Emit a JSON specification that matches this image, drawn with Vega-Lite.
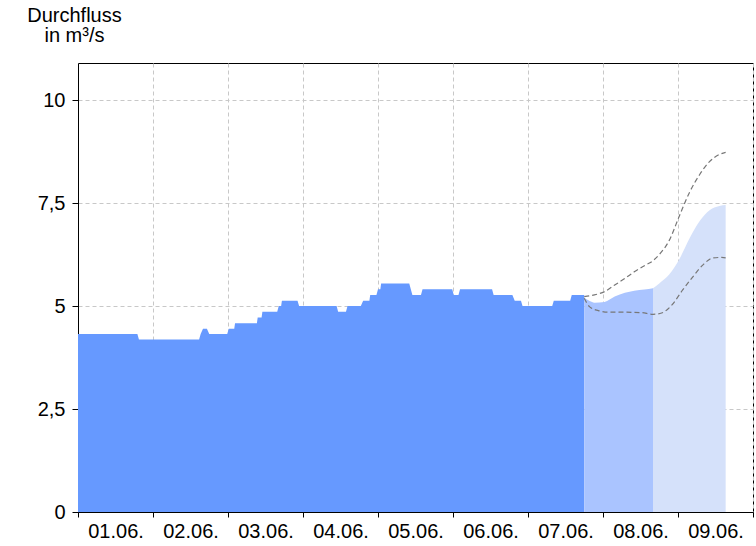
{
  "$schema": "https://vega.github.io/schema/vega-lite/v6.json",
  "autosize": {"type": "none"},
  "padding": {"left": 78, "top": 63, "right": 3, "bottom": 34},
  "width": 675,
  "height": 449,
  "config": {
    "font": "Liberation Sans",
    "view": {"stroke": "#000000", "strokeWidth": 1},
    "axis": {
      "labelFont": "Liberation Sans",
      "labelFontSize": 20,
      "labelColor": "#000000",
      "domainColor": "#000000",
      "tickColor": "#000000",
      "gridColor": "#c8c8c8",
      "gridDash": [4, 3],
      "gridWidth": 1,
      "zindex": 1
    }
  },
  "datasets": {
    "obs": [
      {"t": "2024-06-01T00:00", "q": 4.32},
      {"t": "2024-06-01T19:00", "q": 4.32},
      {"t": "2024-06-01T19:30", "q": 4.19},
      {"t": "2024-06-02T14:45", "q": 4.19},
      {"t": "2024-06-02T15:15", "q": 4.32},
      {"t": "2024-06-02T16:00", "q": 4.45},
      {"t": "2024-06-02T17:15", "q": 4.45},
      {"t": "2024-06-02T18:00", "q": 4.32},
      {"t": "2024-06-02T23:45", "q": 4.32},
      {"t": "2024-06-03T00:15", "q": 4.45},
      {"t": "2024-06-03T02:00", "q": 4.45},
      {"t": "2024-06-03T02:15", "q": 4.58},
      {"t": "2024-06-03T09:15", "q": 4.58},
      {"t": "2024-06-03T09:30", "q": 4.72},
      {"t": "2024-06-03T10:45", "q": 4.72},
      {"t": "2024-06-03T11:00", "q": 4.86},
      {"t": "2024-06-03T15:45", "q": 4.86},
      {"t": "2024-06-03T16:15", "q": 5.0},
      {"t": "2024-06-03T17:00", "q": 5.0},
      {"t": "2024-06-03T17:15", "q": 5.13},
      {"t": "2024-06-03T22:15", "q": 5.13},
      {"t": "2024-06-03T22:45", "q": 5.0},
      {"t": "2024-06-04T10:45", "q": 5.0},
      {"t": "2024-06-04T11:15", "q": 4.86},
      {"t": "2024-06-04T13:45", "q": 4.86},
      {"t": "2024-06-04T14:15", "q": 5.0},
      {"t": "2024-06-04T18:30", "q": 5.0},
      {"t": "2024-06-04T19:15", "q": 5.13},
      {"t": "2024-06-04T21:15", "q": 5.13},
      {"t": "2024-06-04T21:30", "q": 5.27},
      {"t": "2024-06-04T23:30", "q": 5.27},
      {"t": "2024-06-05T00:00", "q": 5.41},
      {"t": "2024-06-05T00:45", "q": 5.41},
      {"t": "2024-06-05T01:00", "q": 5.55},
      {"t": "2024-06-05T10:00", "q": 5.55},
      {"t": "2024-06-05T11:00", "q": 5.27},
      {"t": "2024-06-05T13:45", "q": 5.27},
      {"t": "2024-06-05T14:15", "q": 5.41},
      {"t": "2024-06-05T23:45", "q": 5.41},
      {"t": "2024-06-06T00:15", "q": 5.27},
      {"t": "2024-06-06T01:45", "q": 5.27},
      {"t": "2024-06-06T02:15", "q": 5.41},
      {"t": "2024-06-06T12:30", "q": 5.41},
      {"t": "2024-06-06T13:00", "q": 5.27},
      {"t": "2024-06-06T19:00", "q": 5.27},
      {"t": "2024-06-06T19:45", "q": 5.13},
      {"t": "2024-06-06T21:45", "q": 5.13},
      {"t": "2024-06-06T22:15", "q": 5.0},
      {"t": "2024-06-07T07:45", "q": 5.0},
      {"t": "2024-06-07T08:15", "q": 5.13},
      {"t": "2024-06-07T13:30", "q": 5.13},
      {"t": "2024-06-07T14:00", "q": 5.27},
      {"t": "2024-06-07T18:00", "q": 5.27}
    ],
    "fc": [
      {"t": "2024-06-07T18:00", "q": 5.2, "seg": "a"},
      {"t": "2024-06-07T19:45", "q": 5.12, "seg": "a"},
      {"t": "2024-06-07T21:15", "q": 5.08, "seg": "a"},
      {"t": "2024-06-08T00:30", "q": 5.1, "seg": "a"},
      {"t": "2024-06-08T03:45", "q": 5.23, "seg": "a"},
      {"t": "2024-06-08T07:00", "q": 5.32, "seg": "a"},
      {"t": "2024-06-08T10:00", "q": 5.37, "seg": "a"},
      {"t": "2024-06-08T13:15", "q": 5.4, "seg": "a"},
      {"t": "2024-06-08T16:00", "q": 5.43, "seg": "a"},
      {"t": "2024-06-08T16:00", "q": 5.43, "seg": "b"},
      {"t": "2024-06-08T18:00", "q": 5.55, "seg": "b"},
      {"t": "2024-06-08T21:15", "q": 5.77, "seg": "b"},
      {"t": "2024-06-09T00:30", "q": 6.15, "seg": "b"},
      {"t": "2024-06-09T03:45", "q": 6.65, "seg": "b"},
      {"t": "2024-06-09T07:00", "q": 7.07, "seg": "b"},
      {"t": "2024-06-09T10:00", "q": 7.32, "seg": "b"},
      {"t": "2024-06-09T13:15", "q": 7.43, "seg": "b"},
      {"t": "2024-06-09T15:15", "q": 7.45, "seg": "b"}
    ],
    "bands": [
      {"t": "2024-06-07T18:00", "q": 5.23, "b": "hi"},
      {"t": "2024-06-07T21:15", "q": 5.27, "b": "hi"},
      {"t": "2024-06-08T00:30", "q": 5.35, "b": "hi"},
      {"t": "2024-06-08T03:45", "q": 5.51, "b": "hi"},
      {"t": "2024-06-08T07:00", "q": 5.67, "b": "hi"},
      {"t": "2024-06-08T10:00", "q": 5.83, "b": "hi"},
      {"t": "2024-06-08T13:15", "q": 5.98, "b": "hi"},
      {"t": "2024-06-08T16:00", "q": 6.1, "b": "hi"},
      {"t": "2024-06-08T18:00", "q": 6.25, "b": "hi"},
      {"t": "2024-06-08T21:15", "q": 6.6, "b": "hi"},
      {"t": "2024-06-09T00:30", "q": 7.2, "b": "hi"},
      {"t": "2024-06-09T03:45", "q": 7.77, "b": "hi"},
      {"t": "2024-06-09T07:00", "q": 8.2, "b": "hi"},
      {"t": "2024-06-09T10:00", "q": 8.5, "b": "hi"},
      {"t": "2024-06-09T13:15", "q": 8.68, "b": "hi"},
      {"t": "2024-06-09T15:15", "q": 8.73, "b": "hi"},
      {"t": "2024-06-07T18:00", "q": 5.19, "b": "lo"},
      {"t": "2024-06-07T19:45", "q": 4.98, "b": "lo"},
      {"t": "2024-06-07T22:30", "q": 4.89, "b": "lo"},
      {"t": "2024-06-08T01:30", "q": 4.85, "b": "lo"},
      {"t": "2024-06-08T07:00", "q": 4.85, "b": "lo"},
      {"t": "2024-06-08T12:15", "q": 4.84, "b": "lo"},
      {"t": "2024-06-08T16:00", "q": 4.8, "b": "lo"},
      {"t": "2024-06-08T18:45", "q": 4.83, "b": "lo"},
      {"t": "2024-06-08T21:45", "q": 5.0, "b": "lo"},
      {"t": "2024-06-09T01:30", "q": 5.39, "b": "lo"},
      {"t": "2024-06-09T04:45", "q": 5.71, "b": "lo"},
      {"t": "2024-06-09T08:00", "q": 6.0, "b": "lo"},
      {"t": "2024-06-09T11:15", "q": 6.17, "b": "lo"},
      {"t": "2024-06-09T14:00", "q": 6.18, "b": "lo"},
      {"t": "2024-06-09T15:15", "q": 6.17, "b": "lo"}
    ]
  },
  "encoding": {
    "x": {
      "field": "t",
      "type": "temporal",
      "scale": {"domain": [{"year": 2024, "month": 6, "date": 1}, {"year": 2024, "month": 6, "date": 10}]},
      "axis": {
        "title": null,
        "values": [
          {"year": 2024, "month": 6, "date": 1}, {"year": 2024, "month": 6, "date": 2},
          {"year": 2024, "month": 6, "date": 3}, {"year": 2024, "month": 6, "date": 4},
          {"year": 2024, "month": 6, "date": 5}, {"year": 2024, "month": 6, "date": 6},
          {"year": 2024, "month": 6, "date": 7}, {"year": 2024, "month": 6, "date": 8},
          {"year": 2024, "month": 6, "date": 9}, {"year": 2024, "month": 6, "date": 10}
        ],
        "labelExpr": "date(datum.value) == 10 ? '' : timeFormat(datum.value, '%d.%m.')",
        "labelOffset": 37.5,
        "labelAlign": "center",
        "labelFlush": false,
        "labelOverlap": false,
        "tickSize": 5,
        "labelPadding": 4
      }
    },
    "y": {
      "field": "q",
      "type": "quantitative",
      "stack": null,
      "scale": {"domain": [0, 10.9], "nice": false, "zero": true},
      "axis": {
        "values": [0, 2.5, 5, 7.5, 10],
        "labelExpr": "replace(toString(datum.value), '.', ',')",
        "tickSize": 6,
        "labelPadding": 7,
        "title": ["Durchfluss", "in m³/s"],
        "titleAngle": 0,
        "titleAlign": "center",
        "titleBaseline": "alphabetic",
        "titleX": -4,
        "titleY": -42,
        "titleFont": "Liberation Sans",
        "titleFontSize": 20,
        "titleFontWeight": "normal",
        "titleColor": "#000000",
        "titleLineHeight": 20
      }
    }
  },
  "layer": [
    {
      "data": {"name": "obs"},
      "mark": {"type": "area", "color": "#6699FF", "interpolate": "linear"}
    },
    {
      "data": {"name": "fc"},
      "mark": {"type": "area", "interpolate": "monotone"},
      "encoding": {
        "color": {"field": "seg", "type": "nominal", "scale": {"domain": ["a", "b"], "range": ["#AAC4FF", "#D5E1FA"]}, "legend": null}
      }
    },
    {
      "data": {"name": "bands"},
      "mark": {"type": "line", "interpolate": "monotone", "color": "#777777", "strokeWidth": 1.2, "strokeDash": [5, 3]},
      "encoding": {
        "detail": {"field": "b", "type": "nominal"}
      }
    }
  ]
}
